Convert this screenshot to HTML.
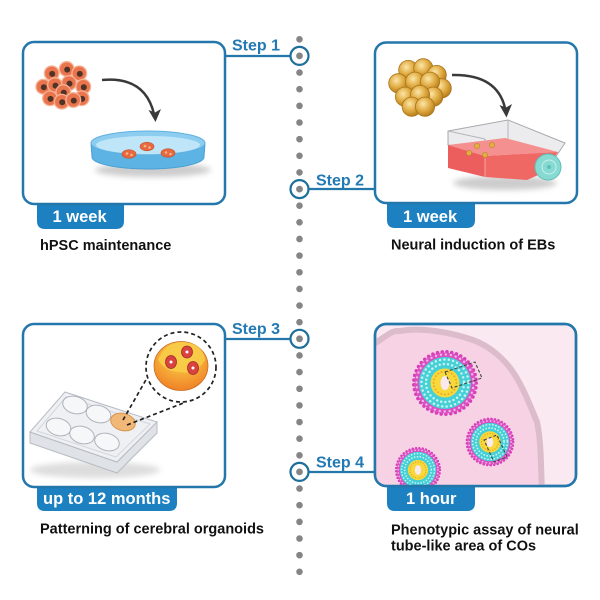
<!DOCTYPE html>
<html><head><meta charset="utf-8"><style>
html,body{margin:0;padding:0;background:#fff;}
svg{display:block;}
text{font-family:"Liberation Sans",Arial,sans-serif;font-weight:bold;}
</style></head><body>
<svg width="600" height="600" viewBox="0 0 600 600" xmlns="http://www.w3.org/2000/svg">
<defs>
 <radialGradient id="gold" cx="40%" cy="35%" r="65%">
  <stop offset="0" stop-color="#fbe6a8"/><stop offset="0.55" stop-color="#e2ad45"/><stop offset="1" stop-color="#b87f1c"/>
 </radialGradient>
 <radialGradient id="org" cx="50%" cy="30%" r="75%">
  <stop offset="0" stop-color="#f9d452"/><stop offset="0.5" stop-color="#f6ab38"/><stop offset="1" stop-color="#ee7b25"/>
 </radialGradient>
 <filter id="blur" x="-50%" y="-50%" width="200%" height="200%"><feGaussianBlur stdDeviation="3"/></filter>
 <clipPath id="p4"><rect x="375" y="324" width="201" height="162" rx="11"/></clipPath>
 <g id="cell"><circle r="7.3" fill="#ea744d" stroke="#f5b294" stroke-width="1.3"/><circle cx="0.5" cy="0.6" r="3" fill="#4f3426"/></g>
 <g id="eb"><circle r="9.6" fill="url(#gold)" stroke="#a8741a" stroke-width="0.8"/></g>
 <g id="ros">
  <circle r="31.2" fill="none" stroke="#d63fb8" stroke-width="3.6" stroke-dasharray="0 4.8" stroke-linecap="round"/>
  <circle r="30.5" fill="#dc4fc2"/>
  <circle r="28.5" fill="none" stroke="#f3b5e5" stroke-width="2.4" stroke-dasharray="0 5" stroke-linecap="round"/>
  <circle r="26" fill="#45cfd6"/>
  <circle r="23.5" fill="none" stroke="#c8f3f3" stroke-width="2.5" stroke-dasharray="0 4.4" stroke-linecap="round"/>
  <circle r="19" fill="none" stroke="#c8f3f3" stroke-width="2.5" stroke-dasharray="0 4.2" stroke-linecap="round"/>
  <circle r="14.5" fill="#f7d93c"/>
  <circle r="11.5" fill="none" stroke="#f0a626" stroke-width="2" stroke-dasharray="0 3.6" stroke-linecap="round"/>
  <ellipse rx="4.5" ry="7" fill="#fbe9f0"/>
 </g>
</defs>

<!-- timeline -->
<line x1="299.5" y1="39.3" x2="299.5" y2="575" stroke="#858585" stroke-width="6.6" stroke-dasharray="0 16.64" stroke-linecap="round"/>

<!-- connectors -->
<g stroke="#2377ab" stroke-width="2.2">
 <line x1="225" y1="56" x2="290" y2="56"/>
 <line x1="309" y1="189" x2="375" y2="189"/>
 <line x1="225" y1="339" x2="290" y2="339"/>
 <line x1="309" y1="472" x2="375" y2="472"/>
</g>
<g fill="#fff" stroke="#1f6f9a" stroke-width="2.2">
 <circle cx="299.5" cy="55.9" r="9"/>
 <circle cx="299.5" cy="189.1" r="9"/>
 <circle cx="299.5" cy="338.8" r="9"/>
 <circle cx="299.5" cy="471.9" r="9"/>
</g>
<g fill="#858585">
 <circle cx="299.5" cy="55.9" r="3.4"/>
 <circle cx="299.5" cy="189.1" r="3.4"/>
 <circle cx="299.5" cy="338.8" r="3.4"/>
 <circle cx="299.5" cy="471.9" r="3.4"/>
</g>

<g font-size="16" fill="#2279b3">
 <text x="232" y="50.5">Step 1</text>
 <text x="316" y="185.5">Step 2</text>
 <text x="232" y="334">Step 3</text>
 <text x="316" y="467.5">Step 4</text>
</g>

<!-- tabs -->
<g fill="#1c80c1">
 <path d="M37,203 L124,203 L124,221 Q124,229 116,229 L45,229 Q37,229 37,221 Z"/>
 <path d="M387,202 L475,202 L475,220 Q475,228 467,228 L395,228 Q387,228 387,220 Z"/>
 <path d="M37,486 L177,486 L177,503 Q177,511 169,511 L45,511 Q37,511 37,503 Z"/>
 <path d="M387,485 L475,485 L475,503 Q475,511 467,511 L395,511 Q387,511 387,503 Z"/>
</g>
<g font-size="16.5" fill="#fff">
 <text x="52.5" y="222">1 week</text>
 <text x="403" y="222">1 week</text>
 <text x="43" y="504">up to 12 months</text>
 <text x="406" y="504">1 hour</text>
</g>

<!-- panels -->
<g fill="#fff" stroke="#2377ab" stroke-width="2.5">
 <rect x="23" y="42" width="202" height="162" rx="11"/>
 <rect x="375" y="42.5" width="202" height="160.5" rx="11"/>
 <rect x="23" y="324" width="202" height="163" rx="11"/>
 <rect x="375" y="324" width="201" height="162" rx="11" fill="#fbe9f2"/>
</g>

<!-- panel 1 illustration -->
<g>
 <use href="#cell" x="51.7" y="73.3"/><use href="#cell" x="66.7" y="69"/><use href="#cell" x="79.3" y="73.3"/>
 <use href="#cell" x="43.3" y="86.7"/><use href="#cell" x="83.3" y="86.7"/>
 <use href="#cell" x="55" y="85"/><use href="#cell" x="69" y="83"/>
 <use href="#cell" x="63.3" y="92"/>
 <use href="#cell" x="50" y="98.3"/><use href="#cell" x="81.7" y="98.3"/>
 <use href="#cell" x="61.7" y="101.7"/><use href="#cell" x="73.3" y="100"/>
</g>
<path d="M102,80 Q145,76 154,114" fill="none" stroke="#3a3a3a" stroke-width="2.5"/>
<polygon points="148.5,110 155.5,122 161,109 155,112.5" fill="#3a3a3a"/>

<ellipse cx="153" cy="170" rx="58" ry="7" fill="#aaa" opacity="0.6" filter="url(#blur)"/>
<path d="M91,143 L92,157 A56,12 0 0 0 204,157 L205,143 Z" fill="#5cb3e4" stroke="#4aa0d4" stroke-width="1"/>
<ellipse cx="148" cy="143" rx="57" ry="12" fill="#8dcdf0" stroke="#5fb0e0" stroke-width="1"/>
<ellipse cx="148" cy="145" rx="52" ry="9" fill="#bfe5f8"/>
<g stroke="#c44e2a" stroke-width="0.6">
 <ellipse cx="147" cy="146.5" rx="7" ry="4.3" fill="#e8693f"/>
 <ellipse cx="129" cy="154" rx="7" ry="4.3" fill="#e8693f"/>
 <ellipse cx="168" cy="153" rx="7" ry="4.3" fill="#e8693f"/>
</g>
<g fill="#f6b48a">
 <circle cx="145" cy="146" r="1.3"/><circle cx="149.5" cy="147.5" r="1.3"/>
 <circle cx="127" cy="153.5" r="1.3"/><circle cx="131.5" cy="155" r="1.3"/>
 <circle cx="166" cy="152.5" r="1.3"/><circle cx="170.5" cy="154" r="1.3"/>
</g>

<!-- panel 2 illustration -->
<g>
 <use href="#eb" x="408.3" y="70"/><use href="#eb" x="423.3" y="68.3"/><use href="#eb" x="436.7" y="75"/>
 <use href="#eb" x="398.3" y="83.3"/><use href="#eb" x="441.7" y="88.3"/>
 <use href="#eb" x="415" y="81.7"/><use href="#eb" x="430" y="81.7"/>
 <use href="#eb" x="405" y="96.7"/><use href="#eb" x="433.3" y="96.7"/><use href="#eb" x="420" y="95"/>
 <use href="#eb" x="411.7" y="106.7"/><use href="#eb" x="425" y="106.7"/>
</g>
<path d="M452,75 Q497,74 505,108" fill="none" stroke="#3a3a3a" stroke-width="2.5"/>
<polygon points="499.5,105 506.5,117.5 512,104 506,107.5" fill="#3a3a3a"/>

<ellipse cx="505" cy="183" rx="52" ry="7" fill="#aaa" opacity="0.6" filter="url(#blur)"/>
<polygon points="448,131 508,120 565,143 555,158 485,152 448,145" fill="#ececef" stroke="#a9a9ad" stroke-width="1"/>
<line x1="508" y1="120" x2="508" y2="148" stroke="#b5b5b8" stroke-width="1"/>
<line x1="448" y1="131" x2="485" y2="139" stroke="#b5b5b8" stroke-width="1"/>
<line x1="485" y1="139" x2="485" y2="153" stroke="#b5b5b8" stroke-width="1"/>
<polygon points="448,145 505,138 558,152 485,156" fill="#f59090"/>
<polygon points="448,145 485,156 485,177 448,168" fill="#ec5d5d"/>
<polygon points="485,156 558,152 545,172 527,180 485,177" fill="#ef6864"/>
<line x1="485" y1="156" x2="485" y2="177" stroke="#f3a3a3" stroke-width="1"/>
<g fill="#e2b040" stroke="#b88420" stroke-width="0.6">
 <circle cx="477" cy="146" r="2.6"/><circle cx="492" cy="145" r="2.6"/><circle cx="469" cy="153" r="2.6"/><circle cx="485" cy="155" r="2.6"/>
</g>
<circle cx="548" cy="167" r="13" fill="#86dad2" stroke="#5fbfb8" stroke-width="1"/>
<circle cx="549" cy="167" r="7" fill="none" stroke="#c9f0ec" stroke-width="1"/>
<circle cx="549" cy="167" r="2" fill="#5fbfb8"/>

<!-- panel 3 illustration -->
<ellipse cx="95" cy="470" rx="65" ry="8" fill="#bbb" opacity="0.5" filter="url(#blur)"/>
<polygon points="30,432 117,462 157,422 157,433 117,473 30,443" fill="#dfe2e7" stroke="#b7bcc4" stroke-width="1"/>
<polygon points="65,392 157,422 117,462 30,432" fill="#eef0f3" stroke="#b7bcc4" stroke-width="1"/>
<polygon points="66,397 150,424 116,457 37,431" fill="none" stroke="#d3d7dd" stroke-width="1"/>
<g fill="#f6f7f9" stroke="#aeb3bb" stroke-width="1">
 <ellipse cx="75" cy="405" rx="12.5" ry="8.5" transform="rotate(15 75 405)"/>
 <ellipse cx="98.5" cy="414" rx="12.5" ry="8.5" transform="rotate(15 98.5 414)"/>
 <ellipse cx="58.5" cy="427" rx="12.5" ry="8.5" transform="rotate(15 58.5 427)"/>
 <ellipse cx="82" cy="435" rx="12.5" ry="8.5" transform="rotate(15 82 435)"/>
 <ellipse cx="107" cy="442" rx="12.5" ry="8.5" transform="rotate(15 107 442)"/>
</g>
<ellipse cx="123" cy="422" rx="12.5" ry="8.5" transform="rotate(15 123 422)" fill="#f2b878" stroke="#d8944a" stroke-width="1"/>
<g stroke="#222" stroke-width="1.7" stroke-dasharray="4 3" fill="none">
 <line x1="123" y1="420" x2="147" y2="378"/>
 <line x1="127" y1="425" x2="186" y2="402"/>
 <circle cx="181" cy="367" r="35"/>
</g>
<ellipse cx="181" cy="366" rx="27" ry="24.5" fill="url(#org)" stroke="#c86a20" stroke-width="0.8"/>
<path d="M158,360 Q165,342 183,342 Q203,343 205,360 Q195,376 180,372 Q166,372 158,360 Z" fill="#f8ce48" opacity="0.85"/>
<g fill="#d8433f" stroke="#a52a2a" stroke-width="0.8">
 <ellipse cx="171" cy="362" rx="5.5" ry="6.5"/>
 <ellipse cx="187" cy="352" rx="5.5" ry="6"/>
 <ellipse cx="193" cy="368" rx="5.5" ry="6.5"/>
</g>
<g fill="#fff"><circle cx="171" cy="362" r="1.5"/><circle cx="187" cy="352" r="1.5"/><circle cx="193" cy="368" r="1.5"/></g>

<!-- panel 4 illustration -->
<g clip-path="url(#p4)">
 <path d="M372,345 C385,338 390,330 400,331 C420,327 450,332 473,340 C490,346 505,360 513,372 C522,385 530,405 537,422 C541,440 541,465 542,495 L372,495 Z" fill="#f6d2e4" stroke="#dcbccb" stroke-width="6"/>
 <use href="#ros" transform="translate(445 383)"/>
 <use href="#ros" transform="translate(490 442) scale(0.74)"/>
 <use href="#ros" transform="translate(418 470) scale(0.7)"/>
 <g fill="none" stroke="#444" stroke-width="1.1" stroke-dasharray="3 2">
  <polygon points="445,372 475,362 482,378 452,388"/>
  <polygon points="484,440 497,435 507,457 494,462"/>
 </g>
</g>
<rect x="375" y="324" width="201" height="162" rx="11" fill="none" stroke="#2377ab" stroke-width="2.5"/>

<!-- labels -->
<g font-size="14.5" fill="#111">
 <text x="40" y="250">hPSC maintenance</text>
 <text x="391" y="249.5">Neural induction of EBs</text>
 <text x="40" y="533.5">Patterning of cerebral organoids</text>
 <text x="391" y="534.5">Phenotypic assay of neural</text>
 <text x="391" y="550.5">tube-like area of COs</text>
</g>
</svg>
</body></html>
